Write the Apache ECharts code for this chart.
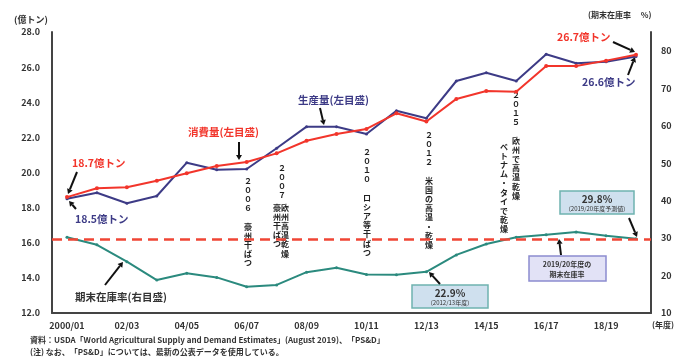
<!DOCTYPE html>
<html><head><meta charset="utf-8">
<script src="https://cdn.jsdelivr.net/npm/echarts@6/dist/echarts.min.js"></script>
<style>html,body{margin:0;padding:0;background:#fff}#c{width:682px;height:360px}</style>
</head><body><div id="c"></div>
<script>
const categories = ['2000/01','01/02','02/03','03/04','04/05','05/06','06/07','07/08','08/09','09/10','10/11','11/12','12/13','13/14','14/15','15/16','16/17','17/18','18/19','19/20'];
const production = [18.5, 18.85, 18.25, 18.66, 20.56, 20.16, 20.2, 21.38, 22.61, 22.61, 22.19, 23.52, 23.09, 25.21, 25.68, 25.21, 26.73, 26.22, 26.31, 26.6];
const consumption = [18.6, 19.1, 19.16, 19.53, 19.96, 20.37, 20.6, 21.09, 21.81, 22.19, 22.48, 23.37, 22.9, 24.19, 24.64, 24.6, 26.07, 26.07, 26.37, 26.7];
const stockRatio = [30.2, 28.2, 23.7, 18.8, 20.6, 19.5, 17.0, 17.5, 20.9, 22.1, 20.3, 20.2, 21.0, 25.5, 28.4, 30.2, 30.9, 31.6, 30.6, 29.8];
const forecastLevel = 29.8;
const leftTicks = {min: 12, max: 28, step: 2};
const rightTicks = {min: 10, max: 85, step: 10};

const FONT = '"Noto Sans CJK JP", "Noto Sans", sans-serif';
const RED = '#f2352b', BLUE = '#3d3b86', GREEN = '#2b8a7e', DARK = '#333';

function txt(x, y, s, o) {
  return {type: 'text', x: x, y: y, style: Object.assign({text: s, fontFamily: FONT, fontSize: 10, fontWeight: 'bold', fill: DARK, textVerticalAlign: 'middle'}, o || {})};
}
function vtext(x, y, s, o) {
  return {type: 'text', x: x, y: y, style: Object.assign({text: Array.from(s).join('\n'), fontFamily: FONT, fontSize: 8, lineHeight: 9.2, fontWeight: 'bold', fill: '#222', textAlign: 'center', textVerticalAlign: 'top'}, o || {})};
}
function arrow(x1, y1, x2, y2) {
  const dx = x2 - x1, dy = y2 - y1, L = Math.sqrt(dx*dx + dy*dy), ux = dx/L, uy = dy/L;
  const h = 5, w = 3;
  const bx = x2 - ux*h, by = y2 - uy*h;
  return {type: 'group', children: [
    {type: 'line', shape: {x1: x1, y1: y1, x2: bx, y2: by}, style: {stroke: '#111', lineWidth: 2}},
    {type: 'polygon', shape: {points: [[x2, y2], [bx - uy*w, by + ux*w], [bx + uy*w, by - ux*w]]}, style: {fill: '#111'}}
  ]};
}
function box(x, y, w, h, fill, stroke) {
  return {type: 'rect', shape: {x: x, y: y, width: w, height: h}, style: {fill: fill, stroke: stroke, lineWidth: 1.5}};
}

const chart = echarts.init(document.getElementById('c'), null, {renderer: 'canvas'});
const option = {
  animation: false,
  backgroundColor: '#fff',
  grid: {left: 52, right: 31, top: 32, bottom: 47},
  xAxis: {
    type: 'category', data: categories, boundaryGap: true,
    axisLine: {lineStyle: {color: '#444', width: 2}},
    axisTick: {show: false},
    axisLabel: {interval: 1, color: '#333', fontSize: 9, fontWeight: 'bold', fontFamily: FONT, margin: 8}
  },
  yAxis: [
    {type: 'value', min: leftTicks.min, max: leftTicks.max, interval: leftTicks.step,
     axisLine: {show: true, lineStyle: {color: '#444', width: 2}}, axisTick: {show: false}, splitLine: {show: false},
     axisLabel: {formatter: v => v.toFixed(1), color: '#333', fontSize: 9, fontWeight: 'bold', fontFamily: FONT, margin: 12}},
    {type: 'value', min: rightTicks.min, max: rightTicks.max, interval: rightTicks.step, position: 'right',
     axisLine: {show: true, lineStyle: {color: '#444', width: 2}}, axisTick: {show: false}, splitLine: {show: false},
     axisLabel: {showMaxLabel: false, color: '#333', fontSize: 9, fontWeight: 'bold', fontFamily: FONT, margin: 10}}
  ],
  series: [
    {name: '期末在庫率', type: 'line', yAxisIndex: 1, data: stockRatio, color: GREEN,
     lineStyle: {width: 2, color: GREEN}, symbol: 'circle', symbolSize: 3, itemStyle: {color: GREEN}, z: 3,
     markLine: {silent: true, symbol: 'none', label: {show: false},
       lineStyle: {color: '#f04535', type: [10, 6], width: 2.5},
       data: [{yAxis: forecastLevel}]}},
    {name: '生産量', type: 'line', data: production, color: BLUE,
     lineStyle: {width: 2, color: BLUE}, symbol: 'circle', symbolSize: 3, itemStyle: {color: BLUE}, z: 4},
    {name: '消費量', type: 'line', data: consumption, color: RED,
     lineStyle: {width: 2, color: RED}, symbol: 'circle', symbolSize: 4, itemStyle: {color: RED}, z: 5}
  ],
  graphic: [
    txt(14, 20, '(億トン)', {fontSize: 9}),
    txt(588, 15, '(期末在庫率　 %)', {fontSize: 8}),
    txt(652, 325, '(年度)', {fontSize: 8}),
    txt(30, 340, '資料：USDA「World Agricultural Supply and Demand Estimates」(August 2019)、「PS&D」', {fontSize: 8}),
    txt(30, 352, '(注) なお、「PS&D」については、最新の公表データを使用している。', {fontSize: 8}),
    txt(72, 163, '18.7億トン', {fill: RED, fontSize: 10.5}),
    arrow(77, 172, 68, 194),
    txt(75, 219, '18.5億トン', {fill: BLUE, fontSize: 10.5}),
    arrow(76, 209, 69, 201),
    txt(188, 132, '消費量(左目盛)', {fill: RED, fontSize: 10.5}),
    arrow(239, 142, 239, 160),
    txt(298, 100, '生産量(左目盛)', {fill: BLUE, fontSize: 10.5}),
    arrow(320, 108, 324, 125),
    txt(557, 37, '26.7億トン', {fill: RED, fontSize: 10.5}),
    arrow(613, 42, 635, 52),
    txt(582, 82, '26.6億トン', {fill: BLUE, fontSize: 10.5}),
    arrow(628, 75, 635, 57),
    txt(75, 297, '期末在庫率(右目盛)', {fontSize: 10.5}),
    arrow(105, 285, 123, 262),
    box(412, 285, 76, 23, '#cfe0ee', '#6fb2b0'),
    txt(450, 293, '22.9%', {textAlign: 'center', fontSize: 10}),
    txt(450, 303, '(2012/13年度)', {textAlign: 'center', fontSize: 6, fontWeight: 'normal'}),
    arrow(440, 284, 429, 272),
    box(560, 191, 74, 23, '#cfe0ee', '#6fb2b0'),
    txt(597, 199, '29.8%', {textAlign: 'center', fontSize: 10}),
    txt(597, 209, '(2019/20年度予測値)', {textAlign: 'center', fontSize: 6, fontWeight: 'normal'}),
    arrow(629, 218, 637, 237),
    box(529, 256, 77, 25, '#e2e2f6', '#8c8cd0'),
    txt(567, 264, '2019/20年度の', {textAlign: 'center', fontSize: 7}),
    txt(567, 274, '期末在庫率', {textAlign: 'center', fontSize: 7}),
    arrow(561, 255, 559, 239),
    vtext(248, 176, '２００６　豪州干ばつ'),
    vtext(282, 163, '２００７'),
    vtext(285, 203, '欧州高温乾燥'),
    vtext(277, 203, '豪州干ばつ'),
    vtext(367, 147, '２０１０　ロシア等干ばつ'),
    vtext(429, 130, '２０１２　米国の高温・乾燥'),
    vtext(516, 90, '２０１５　欧州で高温乾燥'),
    vtext(504, 142, 'ベトナム・タイで乾燥')
  ]
};
chart.setOption(option);
</script></body></html>
